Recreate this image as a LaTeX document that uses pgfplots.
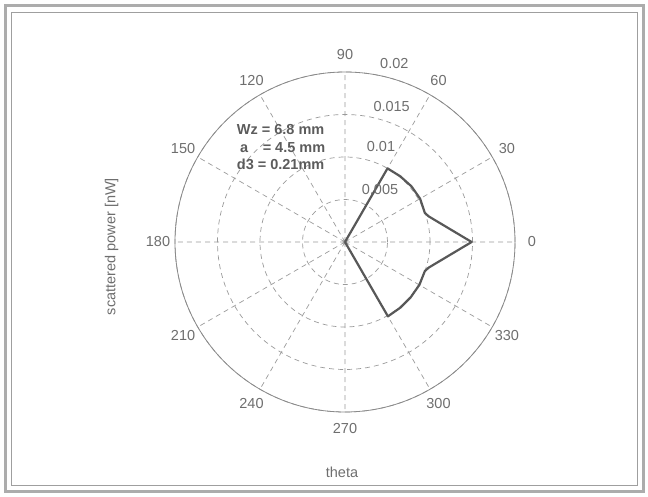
\documentclass[border=0pt]{standalone}
\usepackage{fontspec}
\setmainfont{Liberation Sans}
\usepackage{pgfplots}
\pgfplotsset{compat=1.18}
\usepgfplotslibrary{polar}
\definecolor{txt}{HTML}{6E6E6E}
\definecolor{btxt}{HTML}{5C5C5C}
\definecolor{gridc}{HTML}{9A9A9A}
\definecolor{circc}{HTML}{8A8A8A}
\definecolor{linec}{HTML}{585858}
\begin{document}
\begin{tikzpicture}[x=1pt,y=1pt,font=\fontsize{14.5}{17}\selectfont]
\path[use as bounding box] (0,0) rectangle (648,496);
\draw[gray!65,line width=3pt] (5,5) rectangle (643,490);
\draw[gray!75,line width=0.8pt] (11,11) rectangle (637,484);
\begin{polaraxis}[
  at={(345pt,254pt)}, anchor=center,
  scale only axis, width=340pt, height=340pt,
  ymin=0, ymax=0.02,
  xtick={0,30,...,330},
  ytick={0.005,0.01,0.015,0.02},
  xticklabels={}, yticklabels={},
  scaled y ticks=false,
  xticklabel style={text opacity=0},
  yticklabel style={text opacity=0},
  major tick length=0pt,
  grid=major,
  major grid style={gridc, line width=0.7pt, dash pattern=on 5pt off 4pt},
  axis line style={circc, line width=0.8pt},
  y axis line style={draw=none},
  clip=false,
]
\addplot[linec, line width=2.2pt, mark=none, line join=round] coordinates {
 (-90,0) (-60,0.0101) (-50,0.0101) (-40,0.0101) (-30,0.0101) (-20,0.0100) (-17,0.0103)
 (0,0.0149)
 (17,0.0103) (20,0.0100) (30,0.0102) (40,0.0102) (50,0.0101) (60,0.0100) (90,0)
};
\end{polaraxis}
% angle labels
\foreach \a in {0,30,...,330} {
  \node[txt] at ([shift={(345,254)}]\a:187) {\a};
}
% ring labels
\node[txt,anchor=west,inner sep=0pt] at (380,432.7) {0.02};
\node[txt,anchor=west,inner sep=0pt] at (373.3,389.3) {0.015};
\node[txt,anchor=west,inner sep=0pt] at (366.7,349.3) {0.01};
\node[txt,anchor=west,inner sep=0pt] at (361.7,306.7) {0.005};
% parameter text
\node[btxt,anchor=west,inner sep=0pt,font=\fontsize{14.5}{17}\selectfont\bfseries] at (236.7,366) {Wz = 6.8 mm};
\node[btxt,anchor=west,inner sep=0pt,font=\fontsize{14.5}{17}\selectfont\bfseries] at (240,348.3) {a\hspace{14.5pt}= 4.5 mm};
\node[btxt,anchor=west,inner sep=0pt,font=\fontsize{14.5}{17}\selectfont\bfseries] at (236.7,331.7) {d3 = 0.21mm};
% axis labels
\node[txt,rotate=90] at (111.5,249.5) {scattered power [nW]};
\node[txt] at (342,24) {theta};
\end{tikzpicture}
\end{document}
